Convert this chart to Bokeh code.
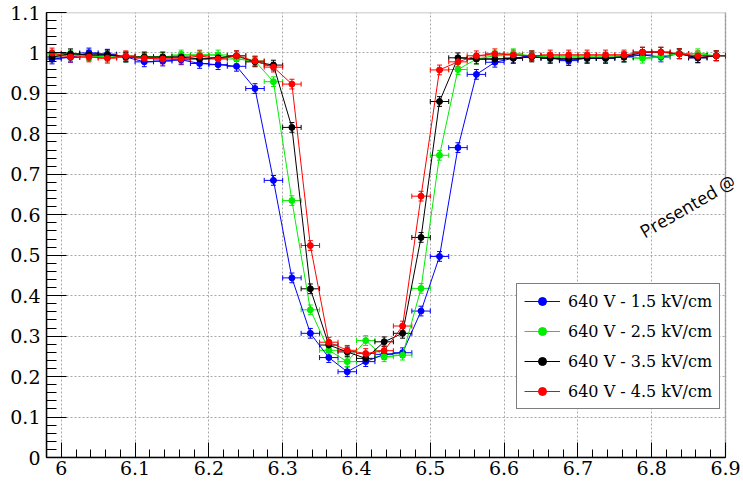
import numpy as np
from bokeh.plotting import figure
from bokeh.models import (ColumnDataSource, Whisker, TeeHead, FixedTicker, Legend,
                          LegendItem, Label, Range1d, BoxAnnotation)
from bokeh.embed import file_html
from bokeh.resources import INLINE

# ---------------- data ----------------
X_CENTERS = [5.9875, 6.0125, 6.0375, 6.0625, 6.0875, 6.1125, 6.1375, 6.1625, 6.1875,
             6.2125, 6.2375, 6.2625, 6.2875, 6.3125, 6.3375, 6.3625, 6.3875, 6.4125,
             6.4375, 6.4625, 6.4875, 6.5125, 6.5375, 6.5625, 6.5875, 6.6125, 6.6375,
             6.6625, 6.6875, 6.7125, 6.7375, 6.7625, 6.7875, 6.8125, 6.8375, 6.8625,
             6.8875]
X_HALF_WIDTH = 0.0125
Y_ERR = 0.012

EFF_1_5 = [0.985, 0.989, 1.000, 0.997, 0.990, 0.978, 0.980, 0.983, 0.974, 0.971, 0.967,
           0.912, 0.685, 0.444, 0.307, 0.247, 0.212, 0.237, 0.255, 0.259, 0.362, 0.497,
           0.766, 0.947, 0.977, 0.987, 0.993, 0.987, 0.981, 0.987, 0.987, 0.990, 0.995,
           0.990, 0.998, 0.988, 0.993]
EFF_2_5 = [0.995, 0.995, 0.993, 0.990, 0.990, 0.990, 0.990, 0.995, 0.995, 0.995, 0.985,
           0.980, 0.929, 0.635, 0.365, 0.265, 0.237, 0.289, 0.249, 0.253, 0.418, 0.747,
           0.959, 0.985, 0.993, 0.998, 0.993, 0.990, 0.990, 0.990, 0.990, 0.990, 0.987,
           0.992, 0.998, 0.998, 0.993]
EFF_3_5 = [0.990, 0.998, 0.995, 0.995, 0.990, 0.990, 0.990, 0.990, 0.985, 0.988, 0.993,
           0.978, 0.970, 0.816, 0.417, 0.278, 0.261, 0.245, 0.286, 0.307, 0.544, 0.880,
           0.988, 0.985, 0.985, 0.987, 0.990, 0.987, 0.985, 0.987, 0.987, 0.990, 1.002,
           1.002, 0.998, 0.988, 0.993]
EFF_4_5 = [1.000, 0.990, 0.990, 0.987, 0.993, 0.987, 0.985, 0.985, 0.993, 0.985, 0.993,
           0.980, 0.965, 0.923, 0.524, 0.285, 0.265, 0.257, 0.264, 0.325, 0.646, 0.958,
           0.978, 0.993, 0.998, 0.995, 0.993, 0.995, 0.995, 0.995, 0.995, 0.995, 1.002,
           1.002, 0.998, 0.993, 0.993]

SERIES_LABELS = ["640 V - 1.5 kV/cm", "640 V - 2.5 kV/cm",
                 "640 V - 3.5 kV/cm", "640 V - 4.5 kV/cm"]
SERIES_VALUES = [EFF_1_5, EFF_2_5, EFF_3_5, EFF_4_5]
SERIES_COLORS = ["#0000ff", "#00ee00", "#000000", "#ff0000"]

X_TICKS = [6.0, 6.1, 6.2, 6.3, 6.4, 6.5, 6.6, 6.7, 6.8, 6.9]
X_TICK_LABELS = ["6", "6.1", "6.2", "6.3", "6.4", "6.5", "6.6", "6.7", "6.8", "6.9"]
Y_TICKS = [0.0, 0.1, 0.2, 0.3, 0.4, 0.5, 0.6, 0.7, 0.8, 0.9, 1.0, 1.1]
Y_TICK_LABELS = ["0", "0.1", "0.2", "0.3", "0.4", "0.5", "0.6", "0.7", "0.8",
                 "0.9", "1", "1.1"]

X_MIN, X_MAX = 5.98, 6.9
Y_MIN, Y_MAX = 0.0, 1.1
WATERMARK = "Presented @"

SERIF = "DejaVu Serif"

# ---------------- figure ----------------
W, H = 743, 487
frame_left, frame_right_axes = 46, 725
px_per_unit = (frame_right_axes - frame_left) / (X_MAX - X_MIN)
x_end = X_MAX + (W - frame_right_axes) / px_per_unit

p = figure(width=W, height=H, output_backend="svg", toolbar_location=None,
           x_range=Range1d(X_MIN, x_end), y_range=Range1d(Y_MIN, Y_MAX),
           min_border_left=frame_left, min_border_right=0, min_border_top=12,
           min_border_bottom=30)
p.background_fill_color = "white"
p.border_fill_color = "white"
p.outline_line_color = None

x_minor = [round(v, 4) for v in np.arange(X_MIN, X_MAX + 1e-4, 0.02)]
y_minor = [round(v, 4) for v in np.arange(Y_MIN, Y_MAX + 1e-4, 0.02)]
p.xaxis.ticker = FixedTicker(ticks=X_TICKS, minor_ticks=x_minor)
p.yaxis.ticker = FixedTicker(ticks=Y_TICKS, minor_ticks=y_minor)
p.xaxis.major_label_overrides = dict(zip(X_TICKS, X_TICK_LABELS))
p.yaxis.major_label_overrides = dict(zip(Y_TICKS, Y_TICK_LABELS))
p.xaxis.bounds = (X_MIN, X_MAX)

xax = p.xaxis[0]
yax = p.yaxis[0]
for ax in (xax, yax):
    ax.axis_line_color = "black"
    ax.axis_line_width = 1.5
    ax.major_tick_line_color = "black"
    ax.minor_tick_line_color = "black"
    ax.major_tick_out = 0
    ax.minor_tick_out = 0
    ax.major_label_text_font = SERIF
    ax.major_label_text_font_size = "19px"
    ax.major_label_text_color = "black"
xax.major_tick_in = 15
xax.minor_tick_in = 8
yax.major_tick_in = 20
yax.minor_tick_in = 10
xax.major_label_standoff = 3
yax.major_label_standoff = 6

for g in (p.xgrid, p.ygrid):
    g.grid_line_color = "#a8a8a8"
    g.grid_line_dash = "2 2"
    g.grid_line_width = 1

# white strip right of the axes box, then the axes box border
p.add_layout(BoxAnnotation(left=X_MAX, level="underlay", fill_color="white",
                           fill_alpha=1.0, line_color=None))
p.add_layout(BoxAnnotation(left=X_MIN, right=X_MAX, bottom=Y_MIN, top=Y_MAX,
                           fill_color=None, fill_alpha=0, line_color="black",
                           line_width=1.5, level="overlay"))

items = []
for label, vals, color in zip(SERIES_LABELS, SERIES_VALUES, SERIES_COLORS):
    xs = np.array(X_CENTERS)
    ys = np.array(vals)
    src = ColumnDataSource(dict(x=xs, y=ys,
                                yu=ys + Y_ERR, yl=ys - Y_ERR,
                                xu=xs + X_HALF_WIDTH, xl=xs - X_HALF_WIDTH))
    wy = Whisker(source=src, base="x", upper="yu", lower="yl", dimension="height",
                 line_color=color, line_width=1,
                 upper_head=TeeHead(size=5, line_color=color, line_width=1),
                 lower_head=TeeHead(size=5, line_color=color, line_width=1))
    wx = Whisker(source=src, base="y", upper="xu", lower="xl", dimension="width",
                 line_color=color, line_width=1,
                 upper_head=TeeHead(size=5, line_color=color, line_width=1),
                 lower_head=TeeHead(size=5, line_color=color, line_width=1))
    p.add_layout(wy)
    p.add_layout(wx)
    lr = p.line("x", "y", source=src, line_color=color, line_width=1)
    sr = p.scatter("x", "y", source=src, marker="circle", size=6,
                   fill_color=color, line_color=color)
    items.append(LegendItem(label=label, renderers=[lr, sr]))

legend = Legend(items=items, location=(470, 48))
legend.background_fill_color = "white"
legend.background_fill_alpha = 1.0
legend.border_line_color = "black"
legend.border_line_width = 1.5
legend.label_text_font = SERIF
legend.label_text_font_size = "16px"
legend.label_text_color = "black"
legend.glyph_width = 36
legend.glyph_height = 20
legend.label_height = 20
legend.label_standoff = 8
legend.spacing = 10
legend.padding = 7
legend.margin = 0
p.add_layout(legend, "center")

watermark = Label(x=6.786, y=0.556, text=WATERMARK, angle=0.5236,
                  text_font="Open Sans", text_font_size="18px", text_color="black",
                  text_baseline="alphabetic", text_align="left")
p.add_layout(watermark)

open("out.html", "w").write(file_html(p, INLINE))
